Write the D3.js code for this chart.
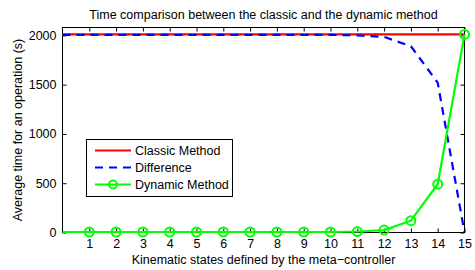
<!DOCTYPE html>
<html><head><meta charset="utf-8">
<script src="https://cdn.jsdelivr.net/npm/d3@7"></script>
<style>body{margin:0;background:#fff}svg{display:block;font-family:"Liberation Sans",Arial,sans-serif}</style>
</head><body><svg id="c" width="475" height="270"></svg>
<script>
const states = [0,1,2,3,4,5,6,7,8,9,10,11,12,13,14,15];
const classic = [2010,2010,2010,2010,2010,2010,2010,2010,2010,2010,2010,2010,2010,2010,2010,2010];
const dynamic = [5,5,5,5,5,5,5,5,5,5,5,10,25,120,490,2010];
const difference = [2005,2005,2005,2005,2005,2005,2005,2005,2005,2005,2005,2000,1985,1890,1520,0];
const xTicks = [1,2,3,4,5,6,7,8,9,10,11,12,13,14,15];
const yTicks = [0,500,1000,1500,2000];

const svg = d3.select("#c");
const L=62.5, R=464.5, T=27.5, B=232.5;
const x = d3.scaleLinear().domain([0,15]).range([L,R]);
const y = d3.scaleLinear().domain([0,2080]).range([B,T]);

// axes
const gx = svg.append("g").attr("transform",`translate(0,${B})`).call(d3.axisBottom(x).tickValues(xTicks).tickSize(-4).tickPadding(7).tickFormat(d3.format("d")));
const gxt = svg.append("g").attr("transform",`translate(0,${T})`).call(d3.axisTop(x).tickValues(xTicks).tickSize(-4).tickFormat(""));
const gy = svg.append("g").attr("transform",`translate(${L},0)`).call(d3.axisLeft(y).tickValues(yTicks).tickSize(-4).tickPadding(6).tickFormat(d3.format("d")));
const gyr = svg.append("g").attr("transform",`translate(${R},0)`).call(d3.axisRight(y).tickValues(yTicks).tickSize(-4).tickFormat(""));
[gx,gxt,gy,gyr].forEach(g=>{g.select(".domain").remove();g.selectAll("line").attr("stroke","#000").attr("stroke-width",1);g.selectAll("text").attr("font-size",12.5).attr("fill","#000").attr("font-family","Liberation Sans, Arial, sans-serif");});
svg.append("rect").attr("x",L).attr("y",T).attr("width",R-L).attr("height",B-T).attr("fill","none").attr("stroke","#000").attr("stroke-width",1);

const line = d3.line().x((d,i)=>x(states[i])).y(d=>y(d));
const plot = svg.append("g");
plot.append("path").datum(classic).attr("d",line).attr("fill","none").attr("stroke","#ff0000").attr("stroke-width",2.2);
plot.append("path").datum(difference).attr("d",line).attr("fill","none").attr("stroke","#0000ff").attr("stroke-width",2.2).attr("stroke-dasharray","8,6");
plot.append("path").datum(dynamic).attr("d",line).attr("fill","none").attr("stroke","#00ff00").attr("stroke-width",2.2);
plot.selectAll("circle.m").data(dynamic.slice(1)).join("circle").attr("cx",(d,i)=>x(states[i+1])).attr("cy",d=>y(d)).attr("r",4.5).attr("fill","none").attr("stroke","#00ff00").attr("stroke-width",2);

// title & labels
svg.append("text").attr("x",(L+R)/2).attr("y",19).attr("text-anchor","middle").attr("font-size",12.5).text("Time comparison between the classic and the dynamic method");
svg.append("text").attr("x",(L+R)/2).attr("y",264).attr("text-anchor","middle").attr("font-size",12.5).text("Kinematic states defined by the meta\u2212controller");
svg.append("text").attr("transform",`translate(22,${(T+B)/2}) rotate(-90)`).attr("text-anchor","middle").attr("font-size",12.5).text("Average time for an operation (s)");

// legend
const lg = svg.append("g");
lg.append("rect").attr("x",86.5).attr("y",139.5).attr("width",146).attr("height",57).attr("fill","#fff").attr("stroke","#000").attr("stroke-width",1);
const items = [{n:"Classic Method",c:"#ff0000",d:null,m:false},{n:"Difference",c:"#0000ff",d:"8,6",m:false},{n:"Dynamic Method",c:"#00ff00",d:null,m:true}];
items.forEach((it,i)=>{
  const yy = 150.5 + i*17;
  const l = lg.append("line").attr("x1",95).attr("x2",131).attr("y1",yy).attr("y2",yy).attr("stroke",it.c).attr("stroke-width",2.2);
  if(it.d) l.attr("stroke-dasharray",it.d);
  if(it.m) lg.append("circle").attr("cx",113).attr("cy",yy).attr("r",4).attr("fill","none").attr("stroke",it.c).attr("stroke-width",2);
  lg.append("text").attr("x",135).attr("y",yy+4.5).attr("font-size",12.5).text(it.n);
});
</script></body></html>
